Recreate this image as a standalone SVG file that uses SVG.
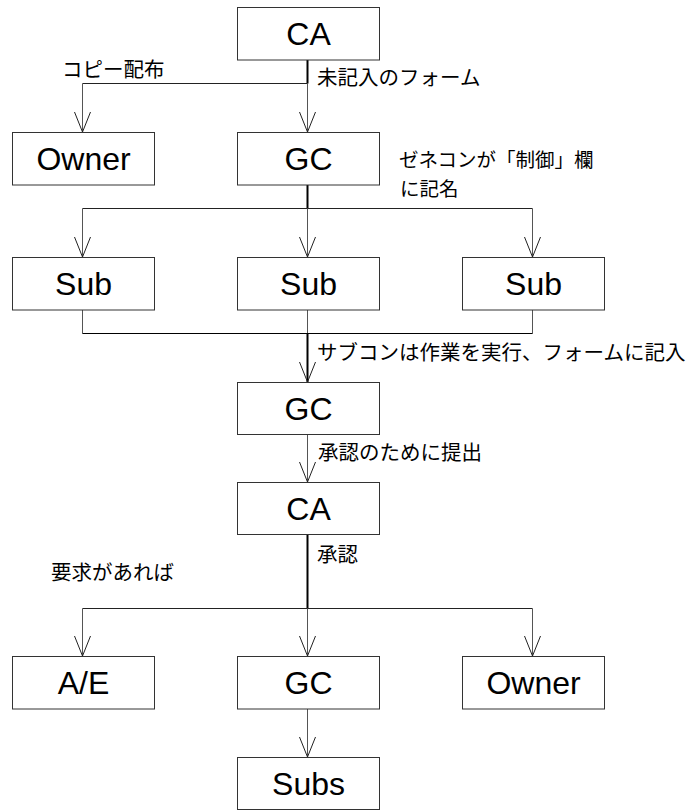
<svg xmlns="http://www.w3.org/2000/svg" width="695" height="810" viewBox="0 0 695 810">
<defs>
<style>
.box{fill:#fff;stroke:#333;stroke-width:1}
.bl{font-family:"Liberation Sans",Arial,sans-serif;font-size:32px;fill:#000;text-anchor:middle}
.lb{font-family:"Noto Sans CJK JP","Noto Sans",sans-serif;font-size:20.5px;fill:#000}
.lb2{font-size:19.5px}
.trunk{fill:none;stroke:#000;stroke-width:2}
.thin{fill:none;stroke:#555;stroke-width:1}
.bus{fill:none;stroke:#222;stroke-width:1}
.ah{fill:none;stroke:#222;stroke-width:1}
</style>
<path id="arr" d="M-8,-20 L0,0 L8,-20" class="ah"/>
</defs>
<rect width="695" height="810" fill="#fff"/>
<g id="connectors">
<path class="trunk" d="M307.5 60 V83.5"/>
<path class="thin" d="M307.5 83.5 V132"/>
<path class="bus" d="M307.5 83.5 H82.5"/>
<path class="thin" d="M82.5 83.5 V132"/>
<use href="#arr" x="82.5" y="132"/>
<use href="#arr" x="307.5" y="132"/>
<path class="trunk" d="M307.5 185 V208.5"/>
<path class="bus" d="M82.5 208.5 H532.5"/>
<path class="thin" d="M82.5 208.5 V257 M307.5 208.5 V257 M532.5 208.5 V257"/>
<use href="#arr" x="82.5" y="257"/>
<use href="#arr" x="307.5" y="257"/>
<use href="#arr" x="532.5" y="257"/>
<path class="thin" d="M82.5 310 V333.5 M307.5 310 V333.5 M532.5 310 V333.5"/>
<path class="bus" d="M82.5 333.5 H532.5" style="stroke:#000"/>
<path class="trunk" d="M307.5 333.5 V382"/>
<use href="#arr" x="307.5" y="382"/>
<path class="thin" d="M307.5 434 V482"/>
<use href="#arr" x="307.5" y="482"/>
<path class="trunk" d="M307.5 534 V608.5"/>
<path class="bus" d="M82.5 608.5 H532.5"/>
<path class="thin" d="M82.5 608.5 V656 M307.5 608.5 V656 M532.5 608.5 V656"/>
<use href="#arr" x="82.5" y="656"/>
<use href="#arr" x="307.5" y="656"/>
<use href="#arr" x="532.5" y="656"/>
<path class="thin" d="M307.5 709 V757"/>
<use href="#arr" x="307.5" y="757"/>
</g>
<g id="labels">
<text class="lb" x="62" y="77">コピー配布</text>
<text class="lb" x="317" y="85">未記入のフォーム</text>
<text class="lb lb2" x="399" y="167">ゼネコンが「制御」欄<tspan x="400" dy="28.5">に記名</tspan></text>
<text class="lb" x="317" y="360">サブコンは作業を実行、フォームに記入</text>
<text class="lb" x="318" y="460">承認のために提出</text>
<text class="lb" x="317" y="562">承認</text>
<text class="lb" x="51" y="580">要求があれば</text>
</g>
<g id="ca1"><rect class="box" x="237.5" y="7.5" width="142" height="52.5"/><text class="bl" x="308.5" y="45">CA</text></g>
<g id="owner1"><rect class="box" x="12.5" y="132.5" width="142" height="52.5"/><text class="bl" x="83.5" y="170">Owner</text></g>
<g id="gc1"><rect class="box" x="237.5" y="132.5" width="142" height="52.5"/><text class="bl" x="308.5" y="170">GC</text></g>
<g id="sub1"><rect class="box" x="12.5" y="257.5" width="142" height="52.5"/><text class="bl" x="83.5" y="295">Sub</text></g>
<g id="sub2"><rect class="box" x="237.5" y="257.5" width="142" height="52.5"/><text class="bl" x="308.5" y="295">Sub</text></g>
<g id="sub3"><rect class="box" x="462.5" y="257.5" width="142" height="52.5"/><text class="bl" x="533.5" y="295">Sub</text></g>
<g id="gc2"><rect class="box" x="237.5" y="382.5" width="142" height="52"/><text class="bl" x="308.5" y="419.5">GC</text></g>
<g id="ca2"><rect class="box" x="237.5" y="482.5" width="142" height="52"/><text class="bl" x="308.5" y="519.5">CA</text></g>
<g id="ae"><rect class="box" x="12.5" y="656.5" width="142" height="52.5"/><text class="bl" x="83.5" y="694">A/E</text></g>
<g id="gc3"><rect class="box" x="237.5" y="656.5" width="142" height="52.5"/><text class="bl" x="308.5" y="694">GC</text></g>
<g id="owner2"><rect class="box" x="462.5" y="656.5" width="142" height="52.5"/><text class="bl" x="533.5" y="694">Owner</text></g>
<g id="subs"><rect class="box" x="237.5" y="757.5" width="142" height="52"/><text class="bl" x="308.5" y="794.5">Subs</text></g>
</svg>
